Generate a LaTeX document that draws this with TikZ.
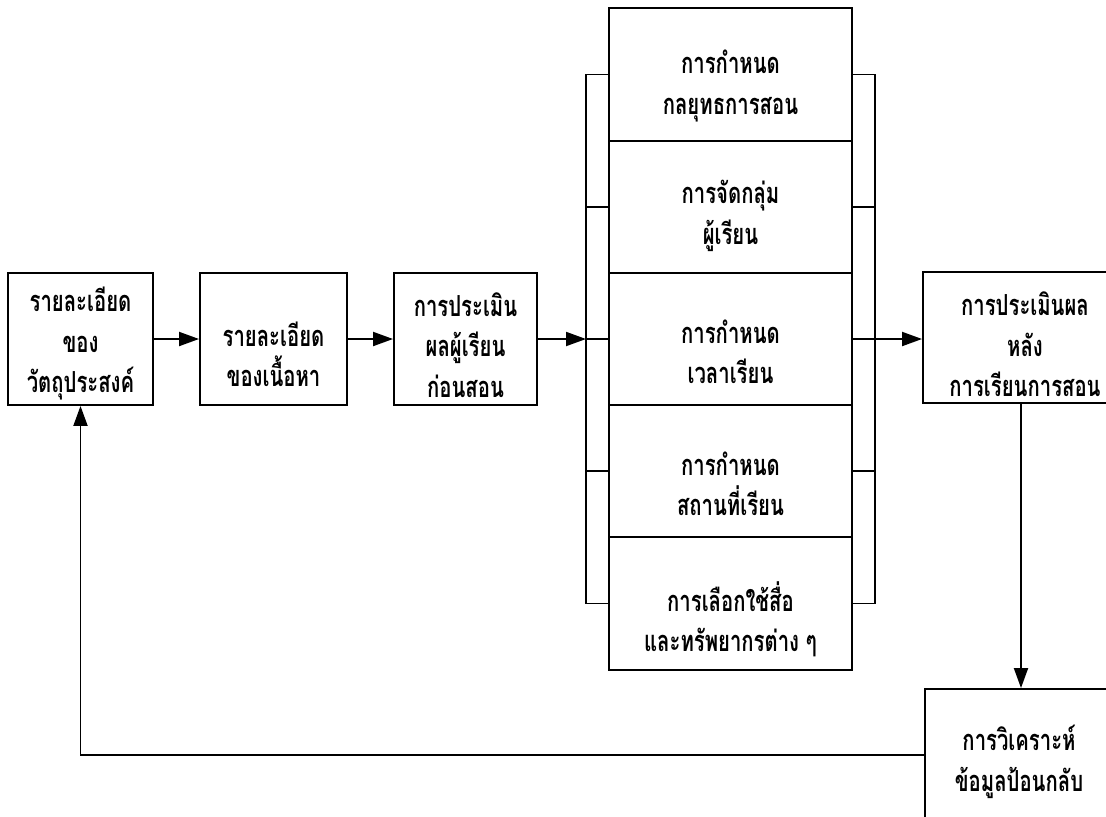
\documentclass[tikz,border=0pt]{standalone}
\usepackage{fontspec}
\newfontfamily\thaifont[Script=Thai,FakeStretch=0.7]{Loma}
\usetikzlibrary{arrows.meta}
\tikzset{
  lw/.style={line width=1.1pt},
  arr/.style={lw,-{Triangle[length=0.4cm,width=0.28cm]}},
  box/.style={draw,lw,inner sep=0pt},
  boxA/.style={box,minimum width=2.9cm,minimum height=2.64cm},
  sec/.style={box,minimum width=4.86cm,minimum height=2.645cm},
  txt/.style={inner sep=0pt,align=center,
    font={\thaifont\bfseries\fontsize{16.5}{23}\selectfont}},
}
\begin{document}
\begin{tikzpicture}[x=0.02cm,y=-0.02cm]
\useasboundingbox (0,0) rectangle (1106,816);
\begin{scope}
\clip (0,0) rectangle (1106,816);
\node[boxA] (A) at (80.5,339) {};
\node[boxA,minimum width=2.94cm] (B) at (273.5,339) {};
\node[boxA,minimum width=2.86cm] (C) at (465.5,339) {};
\node[sec] (M1) at (730.5,74.5) {};
\node[sec] (M2) at (730.5,206.75) {};
\node[sec] (M3) at (730.5,339) {};
\node[sec] (M4) at (730.5,471.25) {};
\node[sec] (M5) at (730.5,603.5) {};
\node[box,minimum width=3.92cm,minimum height=2.62cm] (D) at (1021,337.5) {};
\node[box,minimum width=3.84cm,minimum height=2.64cm] (E) at (1021,755) {};
% texts
\node[txt] (At) at (80.5,343.5) {รายละเอียด\\ของ\\วัตถุประสงค์};
\node[txt] (Bt) at (273.5,354) {รายละเอียด\\ของเนื้อหา};
\node[txt] (Ct) at (465.5,345) {การประเมิน\\ผลผู้เรียน\\ก่อนสอน};
\node[txt] (M1t) at (730.5,86) {การกำหนด\\กลยุทธการสอน};
\node[txt] (M2t) at (730.5,216) {การจัดกลุ่ม\\ผู้เรียน};
\node[txt] (M3t) at (730.5,352) {การกำหนด\\เวลาเรียน};
\node[txt] (M4t) at (730.5,484) {การกำหนด\\สถานที่เรียน};
\node[txt] (M5t) at (730.5,619) {การเลือกใช้สื่อ\\และทรัพยากรต่าง ๆ};
\node[txt] (Dt) at (1025,344.5) {การประเมินผล\\หลัง\\การเรียนการสอน};
\node[txt] (Et) at (1019,762) {การวิเคราะห์\\ข้อมูลป้อนกลับ};
% brackets
\coordinate (L1) at (586,74.5);
\coordinate (L3) at (586,339);
\coordinate (L5) at (586,603.5);
\coordinate (R1) at (875,74.5);
\coordinate (R5) at (875,603.5);
\draw[lw] (M1.west) -- (L1) -- (L5) -- (M5.west);
\draw[lw] (M1.east) -- (R1) -- (R5) -- (M5.east);
\foreach \n in {2,3,4}{
  \draw[lw] (M\n.west) -- (M\n.west -| L1);
  \draw[lw] (M\n.east) -- (M\n.east -| R1);
}
% connectors
\draw[arr] (A) -- (B);
\draw[arr] (B) -- (C);
\draw[arr] (C.east) -- (L3);
\draw[arr] (M3.east) -- (M3.east -| D.west);
\draw[arr] (D.south) -- (E.north);
\draw[arr] (E.west) -| (A.south);
\end{scope}
\end{tikzpicture}
\end{document}
